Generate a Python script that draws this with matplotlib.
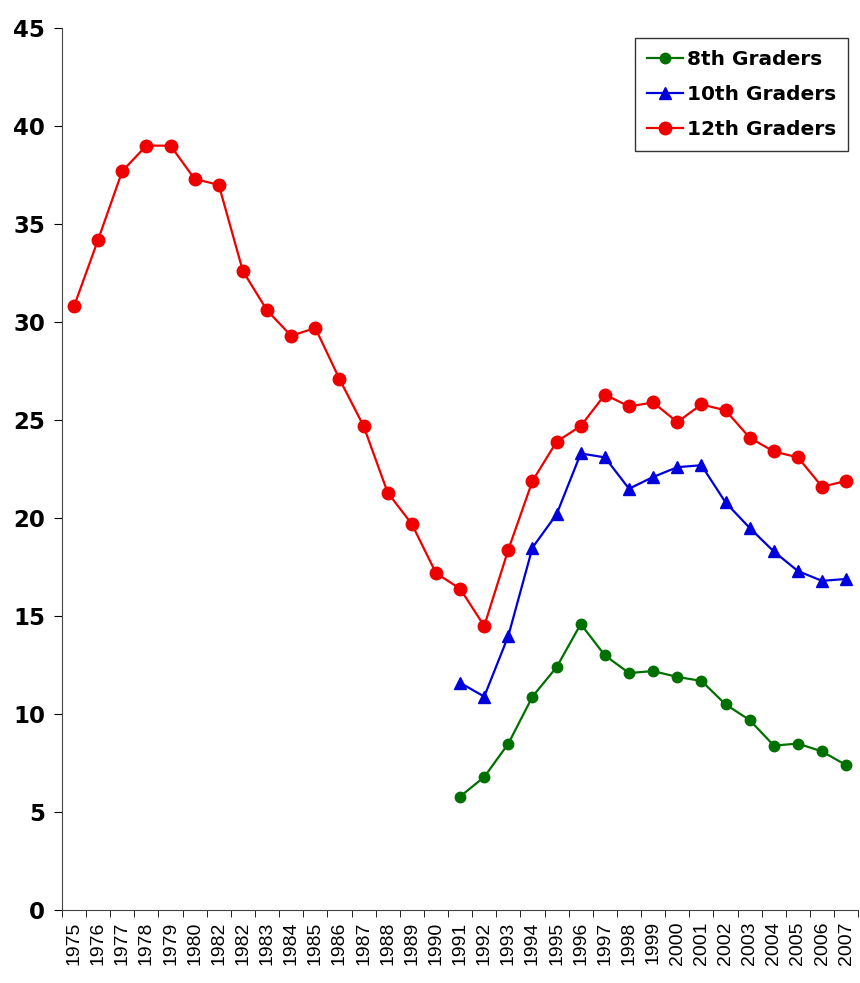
import numpy as np
import matplotlib
matplotlib.use("Agg")
import matplotlib.pyplot as plt

# Category labels as printed on the chart (1981 is shown as 1982)
year_labels = ['1975', '1976', '1977', '1978', '1979', '1980', '1982', '1982',
               '1983', '1984', '1985', '1986', '1987', '1988', '1989', '1990',
               '1991', '1992', '1993', '1994', '1995', '1996', '1997', '1998',
               '1999', '2000', '2001', '2002', '2003', '2004', '2005', '2006', '2007']

grade12 = [30.8, 34.2, 37.7, 39.0, 39.0, 37.3, 37.0, 32.6, 30.6, 29.3, 29.7,
           27.1, 24.7, 21.3, 19.7, 17.2, 16.4, 14.5, 18.4, 21.9, 23.9, 24.7,
           26.3, 25.7, 25.9, 24.9, 25.8, 25.5, 24.1, 23.4, 23.1, 21.6, 21.9]

# 8th and 10th graders start in 1991
grade10 = [11.6, 10.9, 14.0, 18.5, 20.2, 23.3, 23.1, 21.5, 22.1, 22.6, 22.7,
           20.8, 19.5, 18.3, 17.3, 16.8, 16.9]
grade8 = [5.8, 6.8, 8.5, 10.9, 12.4, 14.6, 13.0, 12.1, 12.2, 11.9, 11.7,
          10.5, 9.7, 8.4, 8.5, 8.1, 7.4]

x_all = np.arange(len(year_labels))
start = year_labels.index('1991')
x_late = x_all[start:]

fig = plt.figure(figsize=(8.6, 9.83), dpi=100)
ax = fig.add_axes([0.072, 0.074, 0.926, 0.8975])

ax.plot(x_late, grade8, color='#007000', marker='o', markersize=7.5,
        linewidth=1.6, label='8th Graders')
ax.plot(x_late, grade10, color='#0000dd', marker='^', markersize=9,
        linewidth=1.6, label='10th Graders')
ax.plot(x_all, grade12, color='#ee0000', marker='o', markersize=9,
        linewidth=1.6, label='12th Graders')

ax.set_xlim(-0.5, len(year_labels) - 0.5)
ax.set_ylim(0, 45)
ax.set_yticks(np.arange(0, 46, 5))
ax.set_xticks(x_all)
ax.set_xticklabels(year_labels, rotation=90, fontsize=14,
                   fontfamily='Liberation Sans')
ax.set_xticks(np.arange(-0.5, len(year_labels), 1), minor=True)
ax.tick_params(axis='x', which='major', length=0, pad=8)
ax.tick_params(axis='x', which='minor', length=5, direction='out')
ax.tick_params(axis='y', length=6, direction='out', labelsize=16.5, pad=6)
for lbl in ax.get_yticklabels():
    lbl.set_fontweight('bold')

for side in ['top', 'right']:
    ax.spines[side].set_visible(False)
ax.spines['left'].set_color('#444444')
ax.spines['bottom'].set_color('#444444')

leg = ax.legend(loc='upper right', prop={'weight': 'bold', 'size': 14.5},
                frameon=True, fancybox=False, edgecolor='black',
                handlelength=1.8, handletextpad=0.2, borderpad=0.6,
                labelspacing=0.8, bbox_to_anchor=(1.0, 1.0))
leg.get_frame().set_linewidth(1.0)

fig.savefig('out.png', dpi=100)
